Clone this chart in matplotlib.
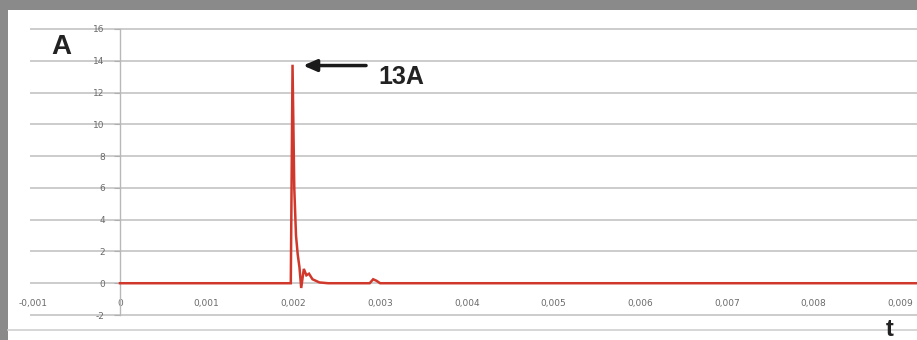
import matplotlib
matplotlib.use("Agg")
import matplotlib.pyplot as plt
from matplotlib.patches import Rectangle
from matplotlib.lines import Line2D

# ---- data ----
time_s = [0.0, 0.00197, 0.00199, 0.00201, 0.00203, 0.00205, 0.00207, 0.00209,
          0.00212, 0.00215, 0.00218, 0.00222, 0.00230, 0.00240, 0.00288,
          0.00292, 0.00296, 0.00300, 0.0092]
current_a = [0.0, 0.0, 13.75, 6.0, 3.0, 1.8, 1.0, -0.3,
             0.9, 0.5, 0.6, 0.25, 0.05, 0.0, 0.0,
             0.25, 0.15, 0.0, 0.0]
x_ticks = [-0.001, 0.0, 0.001, 0.002, 0.003, 0.004, 0.005, 0.006, 0.007, 0.008, 0.009]
x_tick_labels = ["-0,001", "0", "0,001", "0,002", "0,003", "0,004", "0,005",
                 "0,006", "0,007", "0,008", "0,009"]
y_ticks = [-2, 0, 2, 4, 6, 8, 10, 12, 14, 16]
y_tick_labels = ["-2", "0", "2", "4", "6", "8", "10", "12", "14", "16"]
peak_label = "13A"
y_unit = "A"
x_unit = "t"

W, H = 917, 340
fig = plt.figure(figsize=(W / 100, H / 100), dpi=100)
fig.patch.set_facecolor("white")

# grey screenshot frame (top and left)
fig.patches.append(Rectangle((0, 1 - 10 / H), 1, 10 / H, transform=fig.transFigure,
                             facecolor="#8a8a8a", edgecolor="none", zorder=0))
fig.patches.append(Rectangle((0, 0), 8 / W, 1, transform=fig.transFigure,
                             facecolor="#8a8a8a", edgecolor="none", zorder=0))
# bottom frame line
fig.lines.append(Line2D([8 / W, 1], [1 - 330 / H, 1 - 330 / H], transform=fig.transFigure,
                        color="#d0d0d0", lw=1.2))

px_per_ms = 86.7
x0_px = 120
xmin = (30 - x0_px) / px_per_ms * 1e-3
xmax = (917 - x0_px) / px_per_ms * 1e-3
ax = fig.add_axes([30 / W, 1 - 315.8 / H, (917 - 30) / W, (315.8 - 28.2) / H])
ax.set_xlim(xmin, xmax)
ax.set_ylim(-2.05, 16.05)
ax.patch.set_alpha(0)

for s in ["top", "right"]:
    ax.spines[s].set_visible(False)
ax.spines["bottom"].set_position(("data", 0))
ax.spines["bottom"].set_visible(False)
ax.spines["left"].set_position(("data", 0))
ax.spines["left"].set_color("#b8b8b8")
ax.spines["left"].set_linewidth(1.0)
ax.spines["left"].set_bounds(-2, 16)

ax.set_yticks(y_ticks)
ax.set_yticklabels(y_tick_labels)
ax.set_xticks(x_ticks)
ax.set_xticklabels(x_tick_labels)
ax.tick_params(axis="y", length=4, width=0.8, color="#b0b0b0", direction="out",
               pad=7, labelsize=6.5, labelcolor="#6a6a6a")
ax.tick_params(axis="x", length=0, pad=11, labelsize=6.5, labelcolor="#6a6a6a")
ax.yaxis.grid(True, color="#c8c8c8", lw=1.3)
ax.set_axisbelow(True)

ax.plot(time_s, current_a, color="#d0382c", lw=1.8, zorder=3, solid_joinstyle="miter")

# annotation
ax.annotate("", xy=(0.00208, 13.7), xytext=(0.00287, 13.7),
            arrowprops=dict(arrowstyle="-|>,head_length=0.8,head_width=0.35",
                            color="#1a1a1a", lw=2.5))
ax.text(0.00298, 13.0, peak_label, fontsize=18, fontweight="bold",
        family="Liberation Sans", color="#222222", va="center", ha="left")

fig.text(61 / W, 1 - 47 / H, y_unit, fontsize=20, fontweight="bold",
         family="Liberation Sans", color="#222222", ha="center", va="center")
fig.text(890 / W, 1 - 329 / H, x_unit, fontsize=17, fontweight="bold",
         family="Liberation Sans", color="#222222", ha="center", va="center")

fig.savefig("out.png", dpi=100)
